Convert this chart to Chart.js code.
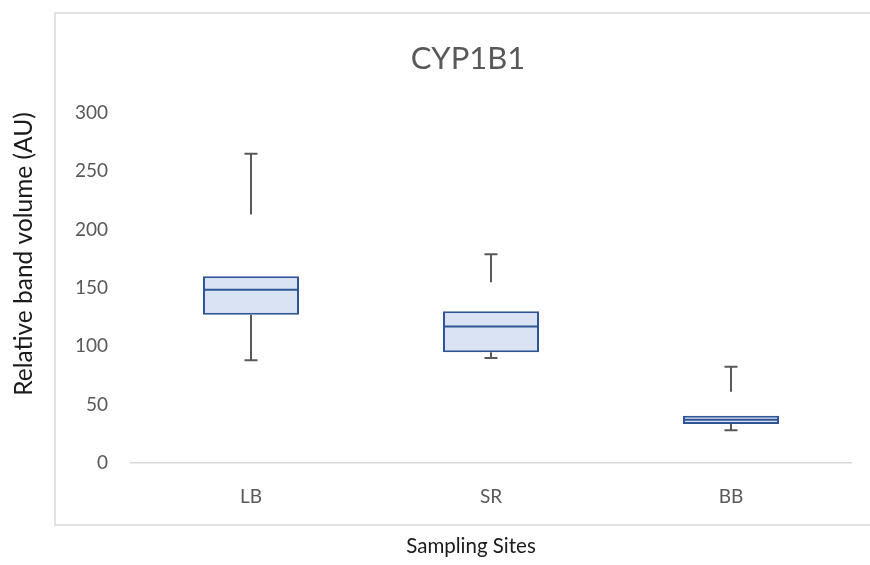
<!DOCTYPE html>
<html>
<head>
<meta charset="utf-8">
<script src="https://cdn.jsdelivr.net/npm/chart.js@4.4.0/dist/chart.umd.min.js"></script>
<style>
  html, body { margin: 0; padding: 0; background: #fff; }
  #wrap { width: 870px; height: 565px; }
</style>
</head>
<body>
<div id="wrap"><canvas id="myChart" width="870" height="565"></canvas></div>
<script>
// Box plot values
const categories = ['LB', 'SR', 'BB'];
const whiskerMax = [265, 179, 82.5];
const upperWhiskerFoot = [213, 155, 61];   // the upper whisker stops short of the box
const q3 = [160, 130, 40.5];
const median = [148.5, 117, 37];
const q1 = [127, 95, 33.5];
const whiskerMin = [88, 90, 28];

const yTicks = [0, 50, 100, 150, 200, 250, 300];

const chartTitle = 'CYP1B1';
const xTitle = 'Sampling Sites';
const yTitle = 'Relative band volume (AU)';

(() => {
    'use strict'

    // outer frame and the three titles (placed like the original, off-centre)
    const frame = {
        id: 'frame',
        beforeDraw(chart) {
            const c = chart.ctx;
            c.save();
            c.strokeStyle = '#d9d9d9';
            c.lineWidth = 1.5;
            c.strokeRect(55, 13, 900, 512);

            c.textAlign = 'center';
            c.textBaseline = 'middle';
            c.fillStyle = '#595959';
            c.font = '31px Lato';
            c.fillText(chartTitle, 468, 59);

            c.fillStyle = '#1a1a1a';
            c.font = '20.5px Lato';
            c.fillText(xTitle, 471, 546);

            c.translate(24, 254);
            c.rotate(-Math.PI / 2);
            c.font = '24.5px Lato';
            c.fillText(yTitle, 0, 0);
            c.restore();
        }
    };

    // median lines and whiskers, placed through the chart's own scales
    const boxParts = {
        id: 'boxParts',
        afterDatasetsDraw(chart) {
            const c = chart.ctx;
            const y = chart.scales.y;
            const meta = chart.getDatasetMeta(0);
            c.save();
            meta.data.forEach((bar, i) => {
                const x = bar.x;
                const half = bar.width / 2;
                const cap = 6.5;

                // whiskers
                c.strokeStyle = '#595959';
                c.lineWidth = 2;
                c.beginPath();
                c.moveTo(x, y.getPixelForValue(whiskerMax[i]));
                c.lineTo(x, y.getPixelForValue(upperWhiskerFoot[i]));
                c.moveTo(x - cap, y.getPixelForValue(whiskerMax[i]));
                c.lineTo(x + cap, y.getPixelForValue(whiskerMax[i]));
                c.moveTo(x, y.getPixelForValue(q1[i]));
                c.lineTo(x, y.getPixelForValue(whiskerMin[i]));
                c.moveTo(x - cap, y.getPixelForValue(whiskerMin[i]));
                c.lineTo(x + cap, y.getPixelForValue(whiskerMin[i]));
                c.stroke();

                // median
                c.strokeStyle = '#2f5597';
                c.lineWidth = 2;
                c.beginPath();
                c.moveTo(x - half, y.getPixelForValue(median[i]));
                c.lineTo(x + half, y.getPixelForValue(median[i]));
                c.stroke();
            });
            c.restore();
        }
    };

    const ctx = document.getElementById('myChart');
    const myChart = new Chart(ctx, {
        type: 'bar',
        data: {
            labels: categories,
            datasets: [{
                data: categories.map((_, i) => [q1[i], q3[i]]),
                backgroundColor: '#dae3f3',
                borderColor: '#2f5597',
                borderWidth: 2,
                borderSkipped: false,
                barPercentage: 0.4,
                categoryPercentage: 1
            }]
        },
        options: {
            responsive: false,
            animation: false,
            layout: { padding: { left: 0, right: 19, top: 113, bottom: 0 } },
            plugins: {
                legend: { display: false },
                tooltip: { enabled: false },
                title: { display: false }
            },
            scales: {
                x: {
                    grid: { display: false, drawTicks: false },
                    border: { display: true, color: '#d9d9d9', width: 1.5 },
                    ticks: {
                        color: '#595959',
                        font: { family: 'Lato', size: 19 },
                        padding: 22
                    },
                    afterFit(scale) { scale.height = 102; }
                },
                y: {
                    min: 0,
                    max: 300,
                    afterBuildTicks(scale) { scale.ticks = yTicks.map(v => ({ value: v })); },
                    grid: { display: false, drawTicks: false },
                    border: { display: false },
                    ticks: {
                        color: '#595959',
                        font: { family: 'Lato', size: 19 },
                        padding: 23
                    },
                    afterFit(scale) { scale.width = 131; }
                }
            }
        },
        plugins: [frame, boxParts]
    });
})()
</script>
</body>
</html>
